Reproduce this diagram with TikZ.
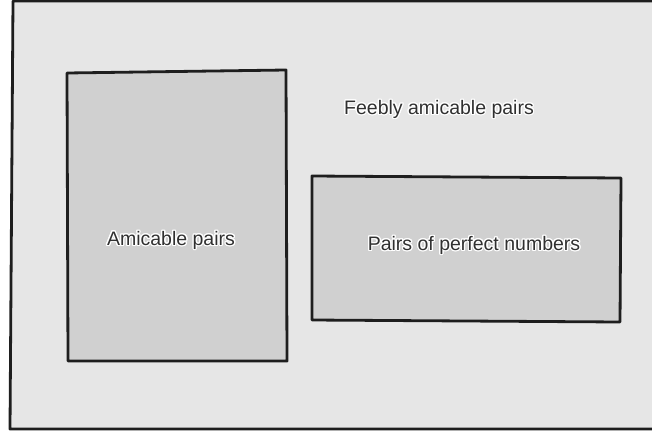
\documentclass[tikz,border=0pt]{standalone}
\usepackage{fontspec}
\setmainfont{Liberation Sans}
\usepackage[copies]{contour}
\contourlength{1.2pt}
\definecolor{outerfill}{HTML}{E6E6E6}
\definecolor{innerfill}{HTML}{D0D0D0}
\definecolor{edge}{HTML}{1E1E1E}
\definecolor{txt}{HTML}{303030}
\tikzset{
  setbox/.style={draw=edge, line width=2.8pt, line join=round},
  setlabel/.style={inner sep=0pt, font=\fontsize{19.5}{23}\selectfont, text=txt}
}
\newcommand{\halotext}[1]{\contour{white}{#1}}
\begin{document}
\begin{tikzpicture}[x=1pt,y=-1pt]
\useasboundingbox (0,0) rectangle (652,434);
\fill[white] (0,0) rectangle (652,434);
\begin{scope}
\clip (0,0) rectangle (652,434);
\path[setbox, fill=outerfill] (13,1) -- (680,1) -- (680,429) -- (10,429) -- cycle;
\end{scope}
\path[setbox, fill=innerfill] (67,73) -- (286,70) -- (287,361) -- (68,361) -- cycle;
\path[setbox, fill=innerfill] (312,176) -- (621,178) -- (620,322) -- (312,320) -- cycle;
\node[setlabel] (feebly) at (439,110) {\halotext{Feebly amicable pairs}};
\node[setlabel] (amicable) at (171,241) {\halotext{Amicable pairs}};
\node[setlabel] (perfect) at (474,246) {\halotext{Pairs of perfect numbers}};
\end{tikzpicture}
\end{document}
